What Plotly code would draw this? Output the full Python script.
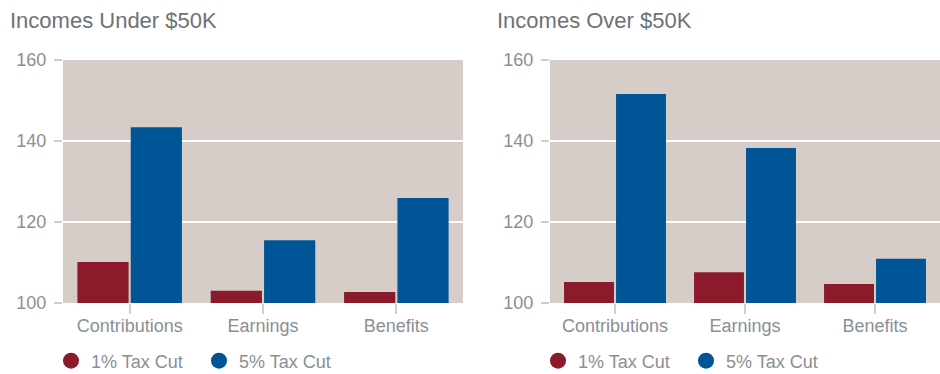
import plotly.graph_objects as go

categories = ["Contributions", "Earnings", "Benefits"]
under_1pct = [110.1, 103.0, 102.7]
under_5pct = [143.4, 115.5, 125.9]
over_1pct = [105.2, 107.6, 104.7]
over_5pct = [151.6, 138.3, 110.9]
series_names = ["1% Tax Cut", "5% Tax Cut"]
titles = ["Incomes Under $50K", "Incomes Over $50K"]
y_ticks = [100, 120, 140, 160]

RED = "#8b1a2b"
BLUE = "#005596"
BG = "#d6cdc8"
GRAY = "#8a8f94"
FONT = "Liberation Sans"

fig = go.Figure()

panels = [
    ("x", "y", "legend", under_1pct, under_5pct),
    ("x2", "y2", "legend2", over_1pct, over_5pct),
]
for xa, ya, lg, v1, v5 in panels:
    for name, vals, col in ((series_names[0], v1, RED), (series_names[1], v5, BLUE)):
        fig.add_trace(go.Bar(x=categories, y=vals, name=name, marker_color=col,
                             marker_line_width=0, xaxis=xa, yaxis=ya,
                             showlegend=False, legend=lg))
    for name, col in ((series_names[0], RED), (series_names[1], BLUE)):
        fig.add_trace(go.Scatter(x=[None], y=[None], mode="markers", name=name,
                                 marker=dict(color=col, size=20, symbol="circle"),
                                 xaxis=xa, yaxis=ya, legend=lg, showlegend=True))

W, H = 940, 374
ml, mr, mt, mb = 63, 0, 60, 71
pw = W - ml - mr
d1 = [0, 400 / pw]
d2 = [487 / pw, 1]

axis_common = dict(
    showline=False, ticks="outside", tickcolor=BG, tickwidth=2,
    tickfont=dict(family=FONT, size=18, color=GRAY),
)
for key, dom in (("xaxis", d1), ("xaxis2", d2)):
    fig.layout[key] = dict(domain=dom, ticklen=10, showgrid=False,
                           ticklabelstandoff=-4, **axis_common)
for key, anc in (("yaxis", "x"), ("yaxis2", "x2")):
    fig.layout[key] = dict(anchor=anc, range=[100, 160], tickvals=y_ticks,
                           ticklen=8, showgrid=True, gridcolor="white", gridwidth=2,
                           zeroline=False, ticklabelstandoff=4, **axis_common)

legend_common = dict(orientation="h", yref="container", y=1 - 361 / H,
                     xanchor="left", yanchor="middle",
                     font=dict(family=FONT, size=18, color=GRAY), itemwidth=30,
                     entrywidth=103, bgcolor="rgba(0,0,0,0)")

fig.update_layout(
    width=W, height=H, margin=dict(l=ml, r=mr, t=mt, b=mb, autoexpand=False),
    paper_bgcolor="white", plot_bgcolor=BG,
    bargap=0.2, bargroupgap=0.04, barmode="group",
    font=dict(family=FONT, color=GRAY),
    legend=dict(x=-12 / pw, **legend_common),
    legend2=dict(x=d2[0] - 12 / pw, **legend_common),
    annotations=[
        dict(text=titles[0], xref="paper", yref="paper", x=(8 - ml) / pw, y=1 + 40 / 243,
             xanchor="left", yanchor="middle", showarrow=False,
             font=dict(family=FONT, size=22, color="#6d7278")),
        dict(text=titles[1], xref="paper", yref="paper", x=(495 - ml) / pw, y=1 + 40 / 243,
             xanchor="left", yanchor="middle", showarrow=False,
             font=dict(family=FONT, size=22, color="#6d7278")),
    ],
)

fig.write_html("out.html")
